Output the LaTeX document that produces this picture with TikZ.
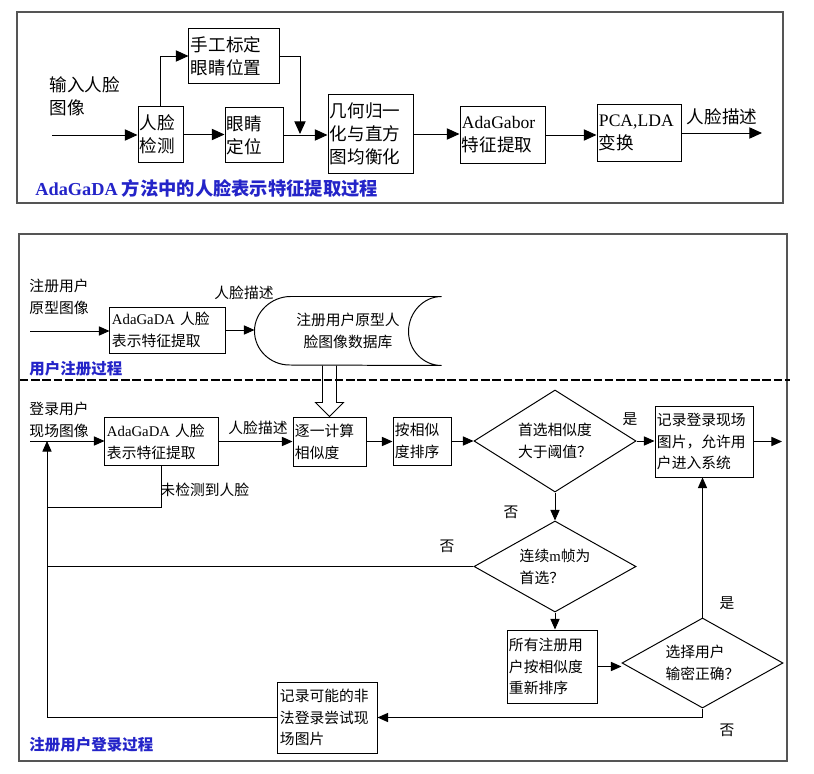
\documentclass[tikz,border=0pt]{standalone}
\usepackage{fontspec}
\setmainfont{Liberation Serif}
\newfontfamily\cjk{Noto Sans CJK SC}
\usepackage{tikz}
\usetikzlibrary{arrows.meta,calc,shapes.geometric}
\definecolor{capblue}{HTML}{2424C8}
\definecolor{panelgray}{HTML}{555555}
\newcommand{\en}[1]{{\rmfamily #1}}

\tikzset{
  box/.style={draw, align=left, inner xsep=0.05cm, inner ysep=1pt},
  decide/.style={draw, diamond, align=left, inner sep=0pt, aspect=1.6},
  toptext/.style={font=\cjk\fontsize{12.5}{16.5}\selectfont},
  lowtext/.style={font=\cjk\fontsize{10.5}{15.5}\selectfont},
  captext/.style={font=\cjk\bfseries\fontsize{#1}{#1}\selectfont, text=capblue, anchor=west, inner sep=0pt},
  panel/.style={draw=panelgray, line width=0.9pt},
  bigtip/.style={-{Triangle[length=9pt,width=8pt]}},
}

\begin{document}
\begin{tikzpicture}[x=0.025cm, y=-0.025cm, line width=0.7pt, >={Triangle[length=7.5pt,width=6.5pt]}]
    \useasboundingbox (0,0) rectangle (814,774);

    % Feature extraction panel
    \draw[panel] (17,12) rectangle (783,203);
    \coordinate (in) at (52,135);
    \coordinate (join) at (300,134);
    \coordinate (out) at (762,134);
    \node[toptext, align=left, anchor=west, inner sep=0pt] (intext) at (49,96) {输入人脸\\图像};
    \node[box, toptext, text width=1.025cm, minimum height=1.375cm] (det) at (160.5,134.5) {人脸\\检测};
    \node[box, toptext, text width=2.15cm, minimum height=1.35cm] (man) at (234,56) {手工标定\\眼睛位置};
    \node[box, toptext, text width=1.35cm, minimum height=1.35cm] (loc) at (254,135) {眼睛\\定位};
    \node[box, toptext, text width=2.025cm, minimum height=1.95cm] (geo) at (370.5,134) {几何归一\\化与直方\\图均衡化};
    \node[box, toptext, text width=2.025cm, minimum height=1.4cm] (gab) at (502.5,135) {\en{AdaGabor}\\特征提取};
    \node[box, toptext, text width=2.0cm, minimum height=1.4cm] (pca) at (639,133) {\en{PCA,LDA}\\变换};
    \node[toptext, inner sep=0pt] (desc) at (722,117) {人脸描述};
    \node[captext=13] (cap1) at (35,188) {\en{AdaGaDA} 方法中的人脸表示特征提取过程};

    \draw[bigtip] (in) -- (in -| det.west);
    \draw[bigtip] (det.north) |- (man.west);
    \draw[bigtip] (det.east) -- (det.east -| loc.west);
    \draw[bigtip] (loc.east) -- (loc.east -| geo.west);
    \draw[bigtip] (man.east) -| (join);
    \draw[bigtip] (geo.east) -- (geo.east -| gab.west);
    \draw[bigtip] (gab.east) -- (gab.east -| pca.west);
    \draw[bigtip] (pca.east) -- (pca.east -| out);

    % Registration and login panel
    \draw[panel] (19,234) rectangle (787,761);

    % Registration
    \coordinate (regin) at (30,331);
    \node[lowtext, align=left, anchor=west, inner sep=0pt] (regtext) at (29,297) {注册用户\\原型图像};
    \node[box, lowtext, text width=2.775cm, minimum height=1.15cm] (ext1) at (167.5,330) {\en{AdaGaDA} 人脸\\表示特征提取};
    \node[lowtext, inner sep=0pt, minimum width=4.65cm, minimum height=1.7cm, align=center] (db) at (348,331) {注册用户原型人\\脸图像数据库};
    \draw (db.north east) -- ++(-151,0) .. controls +(-19,0) and +(0,-19) .. (db.west)
        .. controls +(0,19) and +(-19,0) .. ++(35,34) -- (db.south east)
        .. controls +(-18,0) and +(0,19) .. ++(-33,-34)
        .. controls +(0,-19) and +(-18,0) .. (db.north east);
    \node[lowtext, inner sep=0pt] (desc1) at (244,293) {人脸描述};
    \node[captext=11] (cap2) at (29,369) {用户注册过程};

    \draw[->] (regin) -- (regin -| ext1.west);
    \draw[->] (ext1.east) -- (ext1.east -| db.west);

    % Separator
    \draw[line width=1pt, dash pattern=on 6pt off 2pt] (20,380) -- (790,380);

    % Login
    \coordinate (login) at (30,441);
    \coordinate (tap) at (47,441);
    \coordinate (nf) at (47,507);
    \coordinate (out2) at (782,441);
    \node[lowtext, align=left, anchor=west, inner sep=0pt] (logtext) at (29,420) {登录用户\\现场图像};
    \node[box, lowtext, text width=2.725cm, minimum height=1.2cm] (ext2) at (161.5,441.5) {\en{AdaGaDA} 人脸\\表示特征提取};
    \node[box, lowtext, text width=1.725cm, minimum height=1.225cm] (cal) at (329.5,441.5) {逐一计算\\相似度};
    \node[box, lowtext, text width=1.35cm, minimum height=1.2cm] (srt) at (422,441) {按相似\\度排序};
    \node[decide, lowtext, minimum width=4.05cm, minimum height=2.55cm] (d1) at (555,441) {首选相似度\\大于阈值？};
    \node[box, lowtext, text width=2.35cm, minimum height=1.775cm] (rec) at (704,441.5) {记录登录现场\\图片，允许用\\户进入系统};
    \node[decide, lowtext, minimum width=4.05cm, minimum height=2.275cm] (d2) at (555,566.5) {连续\en{m}帧为\\首选？};
    \node[box, lowtext, text width=2.15cm, minimum height=1.825cm] (all) at (552,666.5) {所有注册用\\户按相似度\\重新排序};
    \node[decide, lowtext, minimum width=4.025cm, minimum height=2.25cm] (d3) at (702.5,663) {选择用户\\输密正确？};
    \node[box, lowtext, text width=2.375cm, minimum height=1.775cm] (ill) at (327.5,717.5) {记录可能的非\\法登录尝试现\\场图片};

    \node[lowtext, inner sep=0pt] (desc2) at (258,428) {人脸描述};
    \node[lowtext, anchor=west, inner sep=0pt] (miss) at (160,490) {未检测到人脸};
    \node[lowtext, inner sep=0pt] (yes1) at (630,419) {是};
    \node[lowtext, inner sep=0pt] (no1) at (511,512) {否};
    \node[lowtext, inner sep=0pt] (no2) at (447,546) {否};
    \node[lowtext, inner sep=0pt] (yes2) at (727,603) {是};
    \node[lowtext, inner sep=0pt] (no3) at (727,730) {否};
    \node[captext=11] (cap3) at (29,745) {注册用户登录过程};

    % Database to matching
    \draw ($(cal.north |- db.south)+(-7,0)$) -- ($(cal.north)+(-7,-14)$) -- ++(-7,0)
        -- (cal.north) -- ($(cal.north)+(14,-14)$) -- ++(-7,0) -- ($(cal.north |- db.south)+(7,0)$);

    \draw[->] (login) -- (login -| ext2.west);
    \draw[->] (ext2.east) -- (cal.west);
    \draw[->] (cal.east) -- (cal.east -| srt.west);
    \draw[->] (srt.east) -- (srt.east -| d1.west);
    \draw[->] (d1.east) -- (d1.east -| rec.west);
    \draw[->] (rec.east) -- (rec.east -| out2);
    \draw[->] (d1.south) -- (d2.north);
    \draw[->] (d2.south) -- (d2.south |- all.north);
    \draw[->] (all.east) -- (all.east -| d3.west);
    \draw[->] (d3.north) -- (d3.north |- rec.south);
    \draw[->] (d3.south) |- (ill.east);

    % Return paths
    \draw[->] (ill.west) -| (tap);
    \draw (d2.west) -- (d2.west -| tap);
    \draw (ext2.south) |- (nf);
\end{tikzpicture}
\end{document}
